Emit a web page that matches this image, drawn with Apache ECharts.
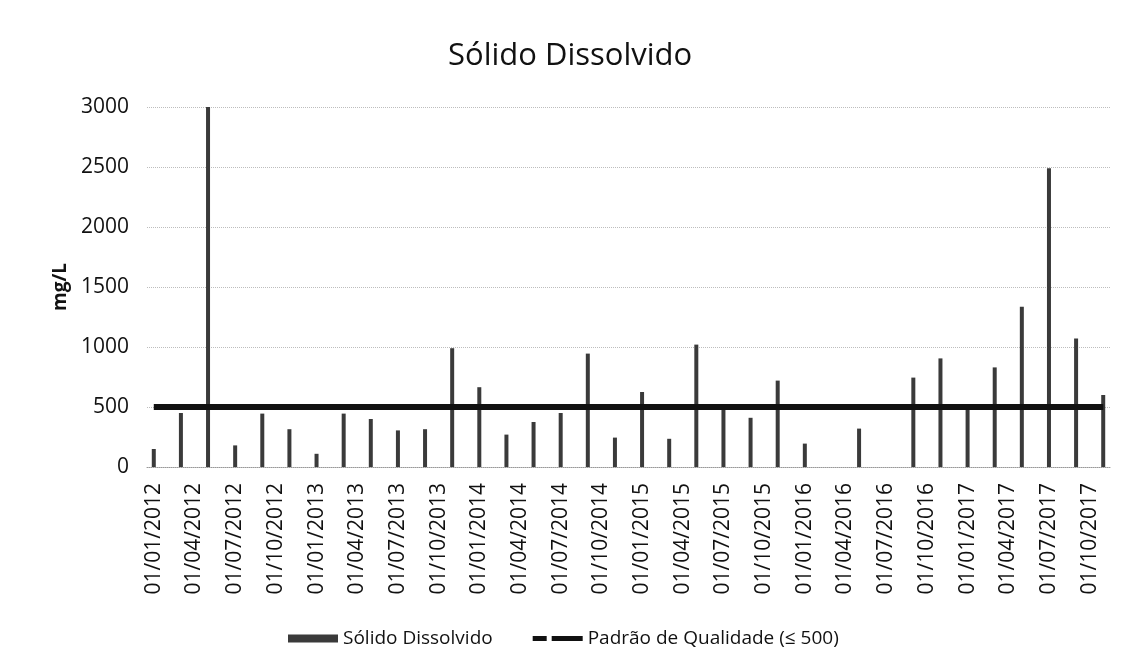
<!DOCTYPE html>
<html>
<head>
<meta charset="utf-8">
<script src="https://cdn.jsdelivr.net/npm/echarts@6/dist/echarts.min.js"></script>
<style>
  html, body { margin: 0; padding: 0; background: #ffffff; }
  #chart { width: 1130px; height: 670px; }
</style>
</head>
<body>
<div id="chart"></div>
<script>
// ---- data ----
const sampleDates = [
  '01/01/2012','01/03/2012','01/05/2012','01/07/2012','01/09/2012','01/11/2012',
  '01/01/2013','01/03/2013','01/05/2013','01/07/2013','01/09/2013','01/11/2013',
  '01/01/2014','01/03/2014','01/05/2014','01/07/2014','01/09/2014','01/11/2014',
  '01/01/2015','01/03/2015','01/05/2015','01/07/2015','01/09/2015','01/11/2015',
  '01/01/2016','01/03/2016','01/05/2016','01/07/2016','01/09/2016','01/11/2016',
  '01/01/2017','01/03/2017','01/05/2017','01/07/2017','01/09/2017','01/11/2017'
];
const solidoValues = [
  150, 450, 3000, 180, 445, 315,
  110, 445, 400, 305, 315, 990,
  665, 270, 375, 450, 945, 245,
  625, 235, 1020, 510, 410, 720,
  195, null, 320, null, 745, 905,
  475, 830, 1335, 2490, 1070, 600
];
const padraoDates = ['01/01/2012', '01/11/2017'];
const padraoValues = [500, 500];
const yTicks = [0, 500, 1000, 1500, 2000, 2500, 3000];

// monthly category axis from first to last sample date
function parseD(s) { const p = s.split('/'); return { m: +p[1], y: +p[2] }; }
function fmt(m, y) { return '01/' + String(m).padStart(2, '0') + '/' + y; }
const first = parseD(sampleDates[0]);
const last = parseD(sampleDates[sampleDates.length - 1]);
const categories = [];
{
  let m = first.m, y = first.y;
  while (y < last.y || (y === last.y && m <= last.m)) {
    categories.push(fmt(m, y));
    m++; if (m > 12) { m = 1; y++; }
  }
}
const barData = categories.map(c => {
  const i = sampleDates.indexOf(c);
  return i >= 0 ? solidoValues[i] : null;
});
const lineData = categories.map(c => {
  const i = padraoDates.indexOf(c);
  return i >= 0 ? padraoValues[i] : null;
});

const FONT = 'Open Sans';
const chart = echarts.init(document.getElementById('chart'), null, { renderer: 'canvas' });
chart.setOption({
  backgroundColor: '#ffffff',
  animation: false,
  title: {
    text: 'Sólido Dissolvido',
    left: 443,
    top: 36,
    textStyle: { fontFamily: FONT, fontSize: 31, fontWeight: 'normal', color: '#111' }
  },
  legend: {
    left: 283,
    top: 624,
    itemGap: 40,
    itemWidth: 50,
    itemHeight: 8,
    textStyle: { fontFamily: FONT, fontSize: 19, color: '#111' },
    data: [
      { name: 'Sólido Dissolvido', icon: 'rect' },
      { name: 'Padrão de Qualidade (≤ 500)', icon: 'path://M0,1 L14,1 L14,6 L0,6 Z M19,1 L50,1 L50,6 L19,6 Z', itemStyle: { color: '#111' } }
    ]
  },
  grid: { left: 147, right: 20, top: 107, bottom: 203, containLabel: false },
  xAxis: {
    type: 'category',
    data: categories,
    boundaryGap: true,
    axisLine: { show: true, lineStyle: { color: '#999', type: 'dotted', width: 1 } },
    axisTick: { show: false },
    axisLabel: {
      interval: 2,
      rotate: 90,
      margin: 16,
      fontFamily: FONT,
      fontSize: 21,
      color: '#111'
    },
    splitLine: { show: false }
  },
  yAxis: {
    type: 'value',
    min: yTicks[0],
    max: yTicks[yTicks.length - 1],
    interval: 500,
    name: 'mg/L',
    nameLocation: 'middle',
    nameGap: 74,
    nameRotate: 90,
    nameTextStyle: { fontFamily: FONT, fontSize: 19, fontWeight: 'bold', color: '#111' },
    axisLine: { show: false },
    axisTick: { show: false },
    axisLabel: { margin: 18, fontFamily: FONT, fontSize: 21, color: '#111', formatter: v => String(v) },
    splitLine: { show: true, lineStyle: { color: '#bdbdbd', type: 'dotted', width: 1 } }
  },
  series: [
    {
      name: 'Sólido Dissolvido',
      type: 'bar',
      data: barData,
      barWidth: 4,
      itemStyle: { color: '#3a3a3a' },
      z: 2
    },
    {
      name: 'Padrão de Qualidade (≤ 500)',
      type: 'line',
      data: lineData,
      connectNulls: true,
      symbol: 'none',
      lineStyle: { color: '#111', width: 6, type: 'solid' },
      itemStyle: { color: '#111' },
      z: 3
    }
  ]
});
</script>
</body>
</html>
